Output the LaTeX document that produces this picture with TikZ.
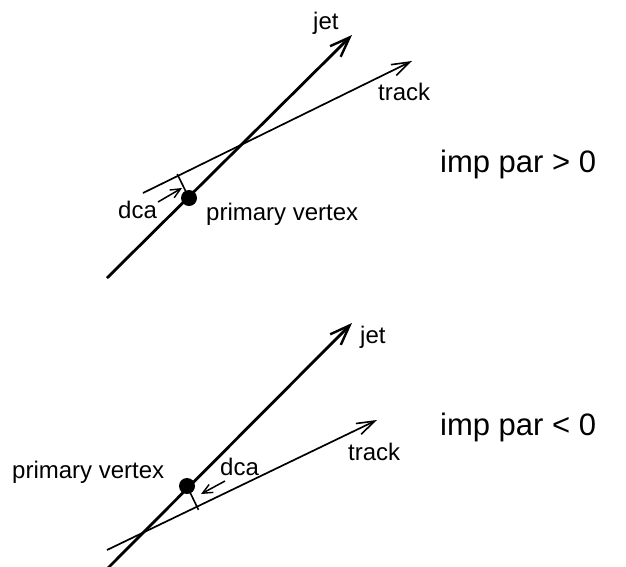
\documentclass[tikz,border=0pt]{standalone}
\usepackage{fontspec}
\setmainfont{Liberation Sans}
\usetikzlibrary{arrows.meta,calc}
\tikzset{
  jetline/.style={line width=2.8pt,-{Straight Barb[length=20pt,width=15pt,line width=2.4pt]}},
  trackline/.style={line width=1.7pt,-{Straight Barb[length=18pt,width=12pt,line width=1.6pt]}},
  dcaarrow/.style={line width=1.5pt,-{Straight Barb[length=10pt,width=9pt,line width=1.4pt]}},
  dcabar/.style={line width=1.6pt},
  vtx/.style={circle,fill=black,inner sep=0pt,minimum size=16pt},
  lbl/.style={inner sep=0pt,anchor=base west,font=\fontsize{24}{28}\selectfont},
  big/.style={inner sep=0pt,anchor=base west,font=\fontsize{31}{36}\selectfont}
}
\begin{document}
\begin{tikzpicture}[x=1pt,y=-1pt]
\useasboundingbox (0,0) rectangle (626,566);
% ---------- top: imp par > 0 ----------
\coordinate (jA1) at (107,278);
\coordinate (jB1) at (352,35);
\coordinate (tA1) at (143,193);
\coordinate (tB1) at (412,61);
\draw[jetline] (jA1) -- (jB1);
\draw[trackline] (tA1) -- (tB1);
\node[vtx] (v1) at (189,198) {};
\coordinate (f1) at ($(tA1)!(v1)!(tB1)$);
\draw[dcabar] (v1.center) -- ($(v1.center)!1.08!(f1)$);
\coordinate (d1s) at (158,202);
\coordinate (d1e) at (182,188);
\draw[dcaarrow] (d1s) -- (d1e);
\node[lbl] (jet1) at (313,29) {jet};
\node[lbl] (track1) at (378,100) {track};
\node[lbl] (dca1) at (118,218) {dca};
\node[lbl] (pv1) at (206,220) {primary vertex};
\node[big] (imp1) at (440,172) {imp par > 0};
% ---------- bottom: imp par < 0 ----------
\coordinate (jA2) at (108,568);
\coordinate (jB2) at (352,323);
\coordinate (tA2) at (107,550);
\coordinate (tB2) at (377,420);
\draw[jetline] (jA2) -- (jB2);
\draw[trackline] (tA2) -- (tB2);
\node[vtx] (v2) at (187,486) {};
\coordinate (f2) at ($(tA2)!(v2)!(tB2)$);
\draw[dcabar] (v2.center) -- ($(v2.center)!1.15!(f2)$);
\coordinate (d2s) at (225,481);
\coordinate (d2e) at (201,494);
\draw[dcaarrow] (d2s) -- (d2e);
\node[lbl] (jet2) at (360,343) {jet};
\node[lbl] (track2) at (348,460) {track};
\node[lbl] (dca2) at (220,475) {dca};
\node[lbl] (pv2) at (12,478) {primary vertex};
\node[big] (imp2) at (440,435) {imp par < 0};
\end{tikzpicture}
\end{document}
